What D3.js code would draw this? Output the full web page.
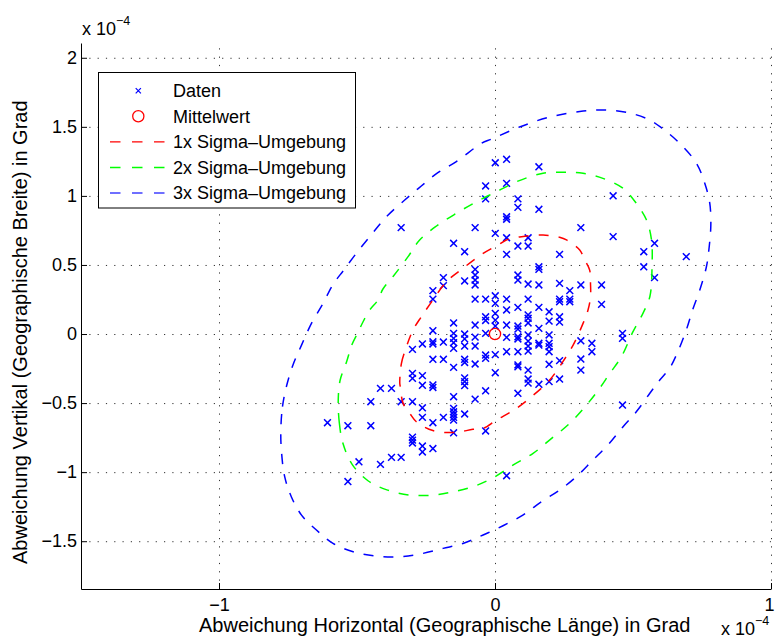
<!DOCTYPE html>
<html>
<head>
<meta charset="utf-8">
<script src="https://cdn.jsdelivr.net/npm/d3@7"></script>
<style>
  body { margin: 0; background: #fff; }
  text { font-family: "Liberation Sans", Arial, Helvetica, sans-serif; fill: #000; }
</style>
</head>
<body>
<svg id="chart" width="775" height="639"></svg>
<script>
// Axis limits and ticks (values in units of 1e-4 degrees)
const xDomain = [-1.5, 1];
const yDomain = [-1.846, 2.107];
const xTicks = [-1, 0, 1];
const xTickLabels = ["\u22121", "0", "1"];
const yTicks = [-1.5, -1, -0.5, 0, 0.5, 1, 1.5, 2];
const yTickLabels = ["\u22121.5", "\u22121", "\u22120.5", "0", "0.5", "1", "1.5", "2"];

// Measured position deviations [horizontal, vertical]
const samples = [
  [-0.607,-0.642],
  [-0.533,-0.664],[-0.533,-1.068],
  [-0.493,-0.925],
  [-0.450,-0.490],[-0.450,-0.664],
  [-0.415,-0.393],[-0.415,-0.944],
  [-0.375,-0.393],[-0.375,-0.893],
  [-0.340,0.770],[-0.340,-0.490],[-0.340,-0.893],
  [-0.299,-0.111],[-0.299,-0.285],[-0.299,-0.321],[-0.299,-0.490],[-0.299,-0.746],[-0.299,-0.768],[-0.299,-0.789],
  [-0.263,-0.072],[-0.263,-0.301],[-0.263,-0.371],[-0.263,-0.534],[-0.263,-0.603],[-0.263,-0.811],[-0.263,-0.854],
  [-0.225,0.314],[-0.225,0.253],[-0.225,0.024],[-0.225,-0.056],[-0.225,-0.072],[-0.225,-0.183],[-0.225,-0.369],[-0.225,-0.387],[-0.225,-0.642],[-0.225,-0.829],
  [-0.187,0.408],[-0.187,0.350],[-0.187,-0.058],[-0.187,-0.183],[-0.187,-0.603],
  [-0.150,0.657],[-0.150,0.080],[-0.150,0.005],[-0.150,-0.031],[-0.150,-0.063],[-0.150,-0.104],[-0.150,-0.241],[-0.150,-0.454],[-0.150,-0.538],[-0.150,-0.563],[-0.150,-0.583],[-0.150,-0.603],[-0.150,-0.623],[-0.150,-0.715],
  [-0.110,0.596],[-0.110,0.384],[-0.110,0.000],[-0.110,-0.035],[-0.110,-0.087],[-0.110,-0.183],[-0.110,-0.206],[-0.110,-0.317],[-0.110,-0.345],[-0.110,-0.373],[-0.110,-0.579],
  [-0.072,0.770],[-0.072,0.468],[-0.072,0.427],[-0.072,0.391],[-0.072,0.355],[-0.072,0.253],[-0.072,0.065],[-0.072,-0.022],[-0.072,-0.087],[-0.072,-0.217],[-0.072,-0.471],
  [-0.034,1.072],[-0.034,0.978],[-0.034,0.253],[-0.034,0.125],[-0.034,0.098],[-0.034,0.005],[-0.034,-0.152],[-0.034,-0.176],[-0.034,-0.411],[-0.034,-0.702],
  [0.001,1.240],[0.001,0.729],[0.001,0.277],[0.001,0.222],[0.001,0.150],[0.001,0.101],[0.001,0.058],[0.001,-0.149],[0.001,-0.280],
  [0.042,1.265],[0.042,1.091],[0.042,0.849],[0.042,0.831],[0.042,0.697],[0.042,0.577],[0.042,0.253],[0.042,0.174],[0.042,0.065],[0.042,-0.024],[0.042,-0.128],[0.042,-1.026],
  [0.083,0.978],[0.083,0.917],[0.083,0.637],[0.083,0.427],[0.083,0.391],[0.083,0.193],[0.083,0.058],[0.083,0.036],[0.083,-0.020],[0.083,-0.036],[0.083,-0.128],[0.083,-0.224],[0.083,-0.237],[0.083,-0.429],
  [0.120,0.697],[0.120,0.637],[0.120,0.362],[0.120,0.253],[0.120,0.138],[0.120,0.114],[0.120,0.080],[0.120,-0.007],[0.120,-0.051],[0.120,-0.087],[0.120,-0.123],[0.120,-0.261],[0.120,-0.326],[0.120,-0.355],
  [0.159,1.211],[0.159,0.903],[0.159,0.487],[0.159,0.468],[0.159,0.355],[0.159,0.193],[0.159,0.041],[0.159,-0.067],[0.159,-0.080],[0.159,-0.364],
  [0.196,0.161],[0.196,0.093],[0.196,-0.007],[0.196,-0.067],[0.196,-0.092],[0.196,-0.128],[0.196,-0.219],[0.196,-0.345],
  [0.234,0.577],[0.234,0.367],[0.234,0.253],[0.234,0.234],[0.234,0.125],[0.234,0.086],[0.234,-0.193],[0.234,-0.326],
  [0.271,0.314],[0.271,0.253],[0.271,0.234],
  [0.311,0.770],[0.311,0.355],[0.311,-0.049],[0.311,-0.181],[0.311,-0.261],
  [0.351,-0.067],[0.351,-0.128],
  [0.386,0.355],[0.386,0.215],
  [0.428,1.001],[0.428,0.705],
  [0.462,0.005],[0.462,-0.031],[0.462,-0.514],
  [0.539,0.596],[0.539,0.487],
  [0.578,0.657],[0.578,0.408],
  [0.693,0.560]
];

const meanPoint = [0, 0];

// Sigma contours, traced clockwise
const sigma1 = [
  [-0.345,-0.357],[-0.339,-0.212],[-0.321,-0.092],[-0.297,0.029],[-0.267,0.125],[-0.225,0.246],
  [-0.176,0.379],[-0.116,0.476],[-0.043,0.584],[0.017,0.652],[0.041,0.681],[0.096,0.705],
  [0.174,0.717],[0.234,0.700],[0.259,0.681],[0.307,0.608],[0.325,0.536],[0.343,0.463],
  [0.346,0.367],[0.346,0.270],[0.337,0.174],[0.319,0.077],[0.283,-0.080],[0.246,-0.200],
  [0.198,-0.333],[0.132,-0.454],[0.071,-0.547],[0.005,-0.623],[-0.043,-0.683],[-0.080,-0.690],
  [-0.146,-0.713],[-0.225,-0.699],[-0.285,-0.635],[-0.309,-0.574],[-0.333,-0.502],[-0.343,-0.382]
];
const sigma2 = [
  [-0.551,-0.791],[-0.564,-0.644],[-0.568,-0.478],[-0.561,-0.333],[-0.538,-0.203],[-0.519,-0.080],
  [-0.496,0.014],[-0.478,0.089],[-0.454,0.174],[-0.424,0.246],[-0.406,0.326],[-0.370,0.415],
  [-0.315,0.560],[-0.273,0.681],[-0.212,0.782],[-0.140,0.874],[-0.067,0.958],[0.005,1.030],
  [0.078,1.103],[0.174,1.164],[0.259,1.171],[0.319,1.164],[0.391,1.127],[0.464,1.055],
  [0.512,0.946],[0.549,0.825],[0.567,0.681],[0.569,0.487],[0.561,0.270],[0.536,0.150],
  [0.500,0.017],[0.458,-0.164],[0.416,-0.285],[0.370,-0.418],[0.319,-0.543],[0.264,-0.659],
  [0.204,-0.757],[0.138,-0.864],[0.065,-0.949],[-0.007,-1.041],[-0.074,-1.101],[-0.152,-1.142],
  [-0.225,-1.166],[-0.309,-1.166],[-0.389,-1.130],[-0.459,-1.064],[-0.517,-0.945]
];
const sigma3 = [
  [-0.776,-0.695],[-0.770,-0.526],[-0.756,-0.382],[-0.732,-0.224],[-0.701,-0.080],[-0.665,0.077],
  [-0.623,0.222],[-0.588,0.355],[-0.548,0.463],[-0.496,0.601],[-0.442,0.734],[-0.391,0.854],
  [-0.327,0.970],[-0.267,1.072],[-0.207,1.168],[-0.140,1.248],[-0.049,1.381],[-0.012,1.412],
  [0.089,1.499],[0.198,1.571],[0.307,1.611],[0.397,1.622],[0.488,1.600],[0.561,1.549],
  [0.604,1.492],[0.669,1.381],[0.730,1.236],[0.760,1.091],[0.778,0.949],[0.782,0.789],
  [0.776,0.630],[0.766,0.487],[0.742,0.319],[0.716,0.174],[0.693,0.029],[0.662,-0.130],
  [0.633,-0.246],[0.597,-0.333],[0.561,-0.429],[0.512,-0.563],[0.464,-0.671],[0.409,-0.804],
  [0.355,-0.912],[0.295,-1.033],[0.234,-1.130],[0.168,-1.214],[0.101,-1.311],[0.029,-1.388],
  [-0.043,-1.455],[-0.116,-1.516],[-0.188,-1.552],[-0.273,-1.593],[-0.351,-1.613],[-0.430,-1.608],
  [-0.514,-1.576],[-0.587,-1.516],[-0.647,-1.419],[-0.701,-1.311],[-0.738,-1.178],[-0.762,-1.033],
  [-0.774,-0.840]
];

const legendLabels = ["Daten", "Mittelwert", "1x Sigma\u2013Umgebung", "2x Sigma\u2013Umgebung", "3x Sigma\u2013Umgebung"];
const contourColors = ["#ff0000", "#00ff00", "#0000ff"];

const svg = d3.select("#chart");
const box = { left: 81, top: 43, right: 771, bottom: 589 };
const x = d3.scaleLinear().domain(xDomain).range([box.left, box.right]);
const y = d3.scaleLinear().domain(yDomain).range([box.bottom, box.top]);

// Dotted grid
const grid = svg.append("g").attr("class", "grid");
grid.append("g")
  .attr("transform", `translate(0,${box.bottom})`)
  .call(d3.axisBottom(x).tickValues(xTicks).tickSize(-(box.bottom - box.top)).tickFormat(""))
  .call(g => g.select(".domain").remove());
grid.append("g")
  .attr("transform", `translate(${box.left},0)`)
  .call(d3.axisLeft(y).tickValues(yTicks).tickSize(-(box.right - box.left)).tickFormat(""))
  .call(g => g.select(".domain").remove());
grid.selectAll("line")
  .attr("stroke", "#333")
  .attr("stroke-width", 1)
  .attr("stroke-dasharray", "1.2,7.1");

// Data points as x markers
const mk = 3.4;
svg.append("g").selectAll("path.sample").data(samples).join("path")
  .attr("class", "sample")
  .attr("transform", d => `translate(${x(d[0])},${y(d[1])})`)
  .attr("d", `M${-mk},${-mk}L${mk},${mk}M${-mk},${mk}L${mk},${-mk}`)
  .attr("stroke", "#0000ff")
  .attr("stroke-width", 1.5)
  .attr("fill", "none");

// Mean
svg.append("circle")
  .attr("cx", x(meanPoint[0])).attr("cy", y(meanPoint[1]))
  .attr("r", 5.6)
  .attr("fill", "none")
  .attr("stroke", "#ff0000")
  .attr("stroke-width", 1.3);

// Sigma contours
const contourLine = d3.line()
  .x(d => x(d[0])).y(d => y(d[1]))
  .curve(d3.curveCatmullRomClosed.alpha(0.5));
svg.append("g").selectAll("path.contour").data([sigma1, sigma2, sigma3]).join("path")
  .attr("class", "contour")
  .attr("d", contourLine)
  .attr("fill", "none")
  .attr("stroke", (d, i) => contourColors[i])
  .attr("stroke-width", 1.5)
  .attr("stroke-dasharray", "10,10");

// Axes with inward ticks
const xAxis = svg.append("g")
  .attr("transform", `translate(0,${box.bottom})`)
  .call(d3.axisBottom(x).tickValues(xTicks).tickFormat((d, i) => xTickLabels[i])
    .tickSizeInner(-6).tickSizeOuter(0).tickPadding(9));
const yAxis = svg.append("g")
  .attr("transform", `translate(${box.left},0)`)
  .call(d3.axisLeft(y).tickValues(yTicks).tickFormat((d, i) => yTickLabels[i])
    .tickSizeInner(-6).tickSizeOuter(0).tickPadding(4));
[xAxis, yAxis].forEach(a => {
  a.selectAll("text").attr("font-size", 18).attr("font-family", null).attr("fill", "#000");
  a.selectAll("line").attr("stroke", "#000");
  a.select(".domain").attr("stroke", "#000");
});
// keep the last x tick label inside the page edge
xAxis.selectAll(".tick text").filter(d => d === xTicks[xTicks.length - 1]).attr("dx", -2);

// Exponent notes
const exp1 = svg.append("text").attr("x", 82).attr("y", 35).attr("font-size", 18);
exp1.append("tspan").text("x 10");
exp1.append("tspan").attr("font-size", 12.5).attr("dy", -10).text("\u22124");
const exp2 = svg.append("text").attr("x", 721).attr("y", 634.5).attr("font-size", 18);
exp2.append("tspan").text("x 10");
exp2.append("tspan").attr("font-size", 12.5).attr("dy", -10).text("\u22124");

// Axis titles
svg.append("text")
  .attr("x", 199).attr("y", 632)
  .attr("font-size", 20)
  .text("Abweichung Horizontal (Geographische L\u00e4nge) in Grad");
svg.append("text")
  .attr("transform", "translate(27,564) rotate(-90)")
  .attr("font-size", 20)
  .text("Abweichung Vertikal (Geographische Breite) in Grad");

// Legend
const legend = svg.append("g");
legend.append("rect")
  .attr("x", 98.5).attr("y", 72.5).attr("width", 257).attr("height", 135.5)
  .attr("fill", "#fff").attr("stroke", "#000").attr("stroke-width", 1);
const rowY = d3.scalePoint().domain(d3.range(legendLabels.length)).range([90.7, 193]);
legend.selectAll("text.lab").data(legendLabels).join("text")
  .attr("class", "lab")
  .attr("x", 173).attr("y", (d, i) => rowY(i) + 6.4)
  .attr("font-size", 18)
  .text(d => d);
legend.append("path")
  .attr("transform", `translate(138.3,${rowY(0)})`)
  .attr("d", "M-2.6,-2.6L2.6,2.6M-2.6,2.6L2.6,-2.6")
  .attr("stroke", "#0000ff").attr("stroke-width", 1.2).attr("fill", "none");
legend.append("circle")
  .attr("cx", 138.3).attr("cy", rowY(1)).attr("r", 5.6)
  .attr("fill", "none").attr("stroke", "#ff0000").attr("stroke-width", 1.3);
legend.selectAll("line.lg").data(contourColors).join("line")
  .attr("class", "lg")
  .attr("x1", 110).attr("x2", 165)
  .attr("y1", (d, i) => rowY(i + 2)).attr("y2", (d, i) => rowY(i + 2))
  .attr("stroke", (d, i) => i === 2 ? "#6f6fff" : d)
  .attr("stroke-width", (d, i) => i === 2 ? 2 : 1.4)
  .attr("stroke-dasharray", "10.5,11.5");
</script>
</body>
</html>
